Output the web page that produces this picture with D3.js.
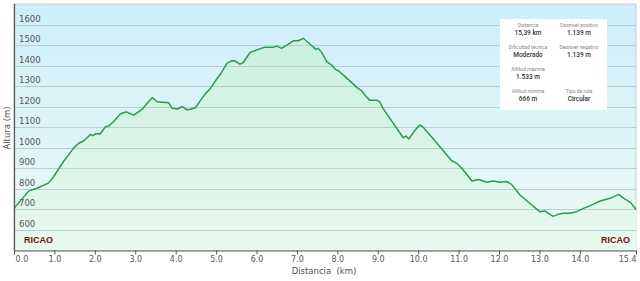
<!DOCTYPE html>
<html>
<head>
<meta charset="utf-8">
<script src="https://cdn.jsdelivr.net/npm/d3@7"></script>
<style>
  body { margin: 0; background: #fff; }
  svg { display: block; font-family: "DejaVu Sans", Verdana, sans-serif; }
</style>
</head>
<body>
<div id="chart"></div>
<script>
//////////////////////////////////////////////////////////////////////////////
// Data

var distKm = [0.00, 0.36, 0.56, 0.85, 0.98, 1.22, 1.47, 1.60, 1.72, 1.89, 1.95, 2.03, 2.13, 2.26, 2.34,
  2.46, 2.63, 2.67, 2.78, 2.96, 3.17, 3.29, 3.42, 3.54, 3.83, 3.91, 4.04, 4.16, 4.29, 4.49, 4.62,
  4.74, 4.86, 5.00, 5.11, 5.27, 5.39, 5.47, 5.59, 5.67, 5.84, 6.00, 6.21, 6.41, 6.50, 6.62, 6.75,
  6.91, 7.03, 7.16, 7.32, 7.47, 7.53, 7.62, 7.74, 7.86, 7.95, 8.03, 8.24, 8.36, 8.48, 8.60, 8.72,
  8.80, 8.97, 9.05, 9.13, 9.30, 9.47, 9.63, 9.70, 9.77, 9.90, 10.04, 10.13, 10.29, 10.54, 10.71,
  10.83, 10.96, 11.08, 11.20, 11.33, 11.49, 11.70, 11.86, 12.02, 12.19, 12.31, 12.52, 12.76, 13.01,
  13.14, 13.34, 13.46, 13.59, 13.76, 13.92, 14.09, 14.29, 14.50, 14.75, 14.96, 15.09, 15.26, 15.39];

var altM = [705, 789, 803, 828, 859, 932, 997, 1022, 1033, 1065, 1059, 1070, 1067, 1102, 1106,
  1127, 1164, 1168, 1175, 1159, 1187, 1216, 1244, 1224, 1219, 1192, 1189, 1200, 1184, 1195, 1232,
  1265, 1289, 1330, 1359, 1411, 1424, 1422, 1407, 1414, 1464, 1476, 1490, 1489, 1495, 1484, 1500,
  1521, 1521, 1533, 1505, 1479, 1484, 1462, 1419, 1403, 1382, 1375, 1338, 1317, 1294, 1278, 1248,
  1232, 1232, 1224, 1192, 1143, 1095, 1049, 1057, 1043, 1080, 1111, 1099, 1062, 1005, 965,
  937, 924, 900, 871, 838, 846, 832, 838, 832, 836, 822, 770, 730, 689,
  692, 666, 676, 681, 681, 689, 705, 721, 741, 754, 773, 754, 733, 700];

var yTicks = [600, 700, 800, 900, 1000, 1100, 1200, 1300, 1400, 1500, 1600];
var xTicks = [0, 1, 2, 3, 4, 5, 6, 7, 8, 9, 10, 11, 12, 13, 14, 15.39];

var infoLabels = ["Distancia", "Desnivel positivo", "Dificultad técnica", "Desnivel negativo",
  "Altitud máxima", "", "Altitud mínima", "Tipo de ruta"];
var infoValues = ["15,39 km", "1.139 m", "Moderado", "1.139 m", "1.533 m", "", "666 m", "Circular"];

var placeNames = ["RICAO", "RICAO"];

//////////////////////////////////////////////////////////////////////////////
// Layout

var width = 640, height = 281;
var plotLeft = 14, plotRight = 636, plotTop = 4, plotBottom = 250.5;

var x = d3.scaleLinear().domain([0, 15.39]).range([plotLeft, plotRight]);
var y = d3.scaleLinear().domain([500, 1700]).range([plotBottom, plotTop]);

var svg = d3.select("#chart").append("svg")
    .attr("width", width)
    .attr("height", height);

var defs = svg.append("defs");

var bg = defs.append("linearGradient").attr("id", "bg")
    .attr("x1", 0).attr("y1", 0).attr("x2", 0).attr("y2", 1);
bg.append("stop").attr("offset", "0%").attr("stop-color", "#cdeefa");
bg.append("stop").attr("offset", "100%").attr("stop-color", "#edfbf4");

var fill = defs.append("linearGradient").attr("id", "fill")
    .attr("gradientUnits", "userSpaceOnUse")
    .attr("x1", 0).attr("y1", plotTop).attr("x2", 0).attr("y2", plotBottom);
fill.append("stop").attr("offset", "0%").attr("stop-color", "#c6efdc");
fill.append("stop").attr("offset", "100%").attr("stop-color", "#e8f9f0");

// plot background
svg.append("rect")
    .attr("x", plotLeft).attr("y", plotTop)
    .attr("width", plotRight - plotLeft).attr("height", plotBottom - plotTop)
    .attr("fill", "url(#bg)")
    .attr("stroke", "#c8ccce").attr("stroke-width", 1);

var data = distKm.map(function(d, i) { return {km: d, m: altM[i]}; });

// area under the profile
svg.append("path")
    .datum(data)
    .attr("fill", "url(#fill)")
    .attr("d", d3.area()
        .x(function(d) { return x(d.km); })
        .y0(plotBottom)
        .y1(function(d) { return y(d.m); }));

// horizontal grid + labels
var grid = svg.append("g");
grid.selectAll("line").data(yTicks).enter().append("line")
    .attr("x1", plotLeft).attr("x2", plotRight)
    .attr("y1", function(d) { return Math.round(y(d)) + 0.5; })
    .attr("y2", function(d) { return Math.round(y(d)) + 0.5; })
    .attr("stroke", "#b9cdd4").attr("stroke-width", 1);
grid.selectAll("text").data(yTicks).enter().append("text")
    .attr("x", plotLeft + 5)
    .attr("y", function(d) { return y(d) - 3; })
    .attr("font-size", 8.5)
    .attr("fill", "#555")
    .text(function(d) { return d; });

// profile line
svg.append("path")
    .datum(data)
    .attr("fill", "none")
    .attr("stroke", "#2c9b4e")
    .attr("stroke-width", 1.5)
    .attr("stroke-linejoin", "round")
    .attr("d", d3.line()
        .x(function(d) { return x(d.km); })
        .y(function(d) { return y(d.m); }));

// axes lines
svg.append("line")
    .attr("x1", plotLeft + 0.5).attr("x2", plotLeft + 0.5)
    .attr("y1", plotTop).attr("y2", plotBottom)
    .attr("stroke", "#555").attr("stroke-width", 1.2);

var xAxis = svg.append("g")
    .attr("transform", "translate(0," + plotBottom + ")")
    .call(d3.axisBottom(x).tickValues(xTicks).tickSize(4).tickSizeOuter(0)
        .tickFormat(d3.format(".1f")));
xAxis.select(".domain").attr("stroke", "#555").attr("stroke-width", 1.2);
xAxis.selectAll(".tick line").attr("stroke", "#555");
xAxis.selectAll(".tick text")
    .attr("font-family", "DejaVu Sans, Verdana, sans-serif")
    .attr("font-size", 8)
    .attr("fill", "#555")
    .attr("y", 5)
    .attr("dy", "0.75em")
    .attr("text-anchor", function(d, i) {
        return i === 0 ? "start" : (i === xTicks.length - 1 ? "end" : "middle");
    })
    .attr("dx", function(d, i) { return i === 0 ? 1 : 0; });

// axis titles
svg.append("text")
    .attr("x", 324).attr("y", 274)
    .attr("text-anchor", "middle")
    .attr("font-size", 8.5).attr("fill", "#555")
    .attr("xml:space", "preserve")
    .text("Distancia  (km)");

svg.append("text")
    .attr("transform", "translate(10,128) rotate(-90)")
    .attr("text-anchor", "middle")
    .attr("font-size", 8.5).attr("fill", "#555")
    .text("Altura (m)");

// place names
svg.selectAll(".place").data(placeNames).enter().append("text")
    .attr("class", "place")
    .attr("x", function(d, i) { return i === 0 ? 24 : 630; })
    .attr("y", 243)
    .attr("text-anchor", function(d, i) { return i === 0 ? "start" : "end"; })
    .attr("font-family", "Liberation Sans, Arial, sans-serif")
    .attr("font-weight", "bold")
    .attr("font-size", 9)
    .attr("fill", "#7b0f0f")
    .text(function(d) { return d; });

// info box
var box = svg.append("g").attr("transform", "translate(500,19)");
box.append("rect")
    .attr("width", 107).attr("height", 91)
    .attr("fill", "#fff");
var cells = box.selectAll(".cell").data(infoLabels).enter().append("g")
    .attr("class", "cell")
    .attr("transform", function(d, i) {
        var col = i % 2, row = Math.floor(i / 2);
        return "translate(" + (col === 0 ? 28 : 79) + "," + (row * 22) + ")";
    });
cells.append("text")
    .attr("y", 8)
    .attr("text-anchor", "middle")
    .attr("font-family", "Roboto, sans-serif")
    .attr("font-size", 5)
    .attr("fill", "#888")
    .text(function(d) { return d; });
cells.append("text")
    .attr("y", 16)
    .attr("text-anchor", "middle")
    .attr("font-family", "Roboto, sans-serif")
    .attr("font-weight", 500)
    .attr("font-size", 6.5)
    .attr("fill", "#333")
    .text(function(d, i) { return infoValues[i]; });
</script>
</body>
</html>
